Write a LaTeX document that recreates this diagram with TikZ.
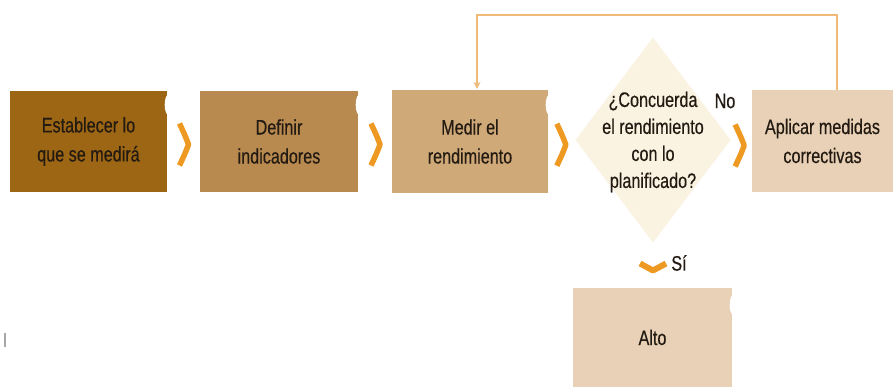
\documentclass[tikz,border=0pt]{standalone}
\usepackage{fontspec}
\setmainfont{Liberation Sans}[FakeStretch=0.77,FakeBold=0.4]
\usetikzlibrary{shapes.geometric,arrows.meta,calc}
\definecolor{cA}{HTML}{9C6614}
\definecolor{cB}{HTML}{B98A50}
\definecolor{cC}{HTML}{CFA978}
\definecolor{cD}{HTML}{E9D1B7}
\definecolor{cDia}{HTML}{FBF3E2}
\definecolor{chev}{HTML}{EE9A22}
\definecolor{fbcol}{HTML}{F2BA78}
\definecolor{txt}{HTML}{231A12}
\tikzset{
  stepbox/.style={rectangle, inner sep=0pt, minimum width=157pt, minimum height=101pt,
     align=center, text=txt, font=\fontsize{21}{29}\selectfont},
  decision/.style={diamond, inner sep=0pt, outer sep=0pt, minimum width=155pt, minimum height=205pt,
     fill=cDia},
  dtext/.style={align=center, text=txt, font=\fontsize{21}{27}\selectfont, inner sep=0pt},
  lbl/.style={text=txt, font=\fontsize{21}{22}\selectfont, inner sep=0pt},
  chevron/.style={draw=chev, line width=5.5pt, line join=round},
  fb/.style={draw=fbcol, line width=1.8pt, -{Stealth[length=7pt,width=7pt]}},
  notch/.style={fill=white, draw=none}
}
\begin{document}
\begin{tikzpicture}[x=1pt,y=-1pt]
\useasboundingbox (0,0) rectangle (896,387);
\fill[white] (0,0) rectangle (896,387);
% boxes
\node[stepbox, fill=cA] (b1) at (88.5,141.5) {Establecer lo\\que se medirá};
\node[stepbox, fill=cB, minimum width=158pt] (b2) at (279,141.5) {Definir\\indicadores};
\node[stepbox, fill=cC, minimum width=156pt, minimum height=103pt] (b3) at (470,141.5) {Medir el\\rendimiento};
\node[decision] (dec) at (653,140) {};
\node[dtext] (dect) at (653,142) {¿Concuerda\\el rendimiento\\con lo\\planificado?};
\node[stepbox, fill=cD, minimum width=141pt, minimum height=102pt] (ap) at (822.5,141) {Aplicar medidas\\correctivas};
\node[stepbox, fill=cD, minimum width=159pt, minimum height=99pt] (alto) at (652.5,337.5) {Alto};
% notches
\fill[notch] ($(b1.north east)+(1,14)$) ellipse (3.5pt and 10pt);
\fill[notch] ($(b2.north east)+(1,14)$) ellipse (3.5pt and 10pt);
\fill[notch] ($(b3.north east)+(1,15)$) ellipse (3.5pt and 10pt);
\fill[notch] ($(alto.north east)+(1,17)$) ellipse (3.5pt and 10pt);
% chevrons
\coordinate (c1) at ($(b1.east)!0.5!(b2.west)+(1,3)$);
\coordinate (c2) at ($(b2.east)!0.5!(b3.west)+(1,3)$);
\coordinate (c3) at ($(b3.east)!0.5!(dec.west)+(0,4)$);
\coordinate (c4) at ($(dec.east)!0.5!(ap.west)+(-1,5)$);
\foreach \c in {c1,c2,c3,c4}{
  \draw[chevron] ($(\c)+(-5,-21)$) .. controls ($(\c)+(1,-8)$) .. ($(\c)+(4,0)$)
     .. controls ($(\c)+(1,8)$) .. ($(\c)+(-5,21)$);
}
\coordinate (cd) at ($(dec.south)+(0,28)$);
\draw[chevron, line width=6pt] ($(cd)+(-13,-7)$) -- (cd) -- ($(cd)+(13,-7)$);
% labels
\node[lbl] (no) at (725,101) {No};
\node[lbl] (si) at (679,263) {Sí};
% feedback loop
\draw[fb] ($(ap.north)+(14.5,0)$) -- ++(0,-75) -| ($(b3.north)+(7,-1)$);
% small mark
\draw[gray!70, line width=1.3pt] (5,333) -- (5,347);
\end{tikzpicture}
\end{document}
